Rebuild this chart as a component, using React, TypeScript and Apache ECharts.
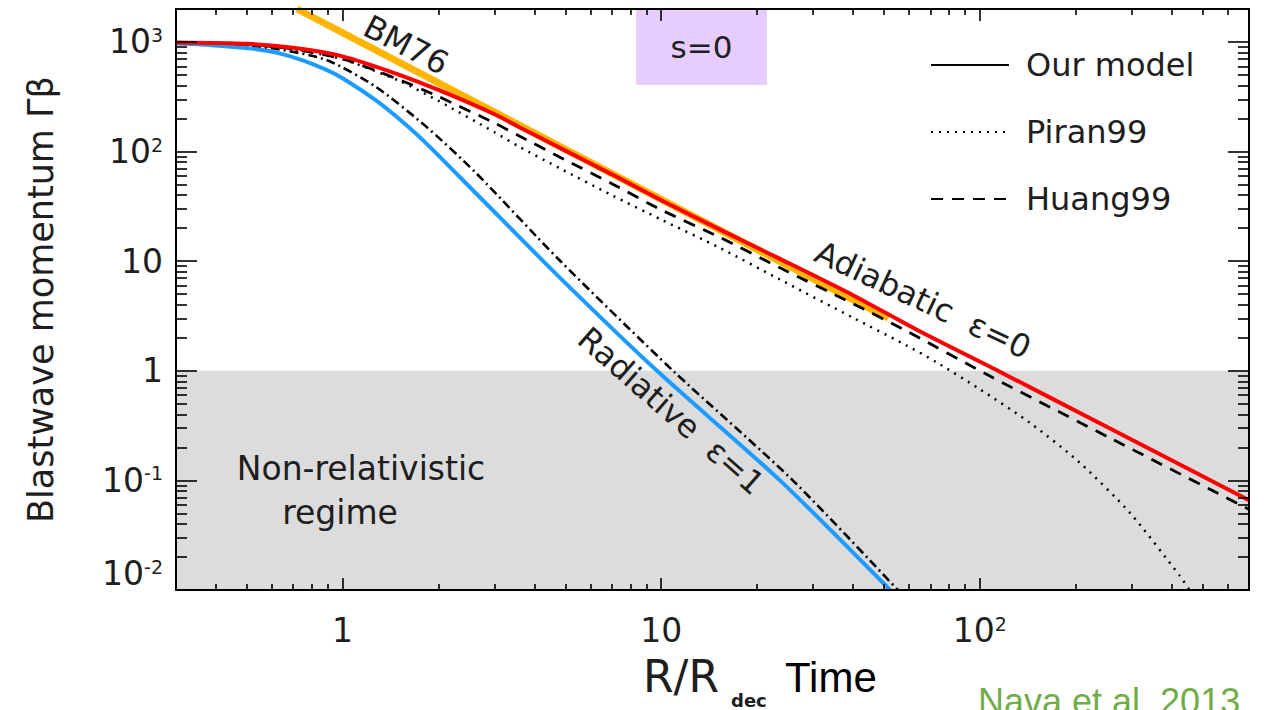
import React, { useEffect, useRef } from 'react';
import * as echarts from 'echarts';

const FONT = "'DejaVu Sans', sans-serif";
const NARROW = "'Liberation Sans Narrow', 'Liberation Sans', sans-serif";
const INK = '#1e1e1e';

// Axis ranges (R/R_dec and Γβ)
const X_MIN = 0.3;
const X_MAX = 700;
const Y_MIN = 0.01;
const Y_MAX = 2000;

// Tick values
const xMajorTicks = [1, 10, 100];
const xMinorTicks = [0.4, 0.5, 0.6, 0.7, 0.8, 0.9, 2, 3, 4, 5, 6, 7, 8, 9, 20, 30, 40, 50, 60, 70, 80, 90, 200, 300, 400, 500, 600];
const yMajorTicks = [0.01, 0.1, 1, 10, 100, 1000];
const yLabelTicks = [0.1, 1, 10, 100, 1000];
const yBottomLabel = [0.01];
const yMinorTicks = [
  0.02, 0.03, 0.04, 0.05, 0.06, 0.07, 0.08, 0.09,
  0.2, 0.3, 0.4, 0.5, 0.6, 0.7, 0.8, 0.9,
  2, 3, 4, 5, 6, 7, 8, 9,
  20, 30, 40, 50, 60, 70, 80, 90,
  200, 300, 400, 500, 600, 700, 800, 900,
];

// Our model, adiabatic (eps = 0)
const adiabaticOurX = [0.3, 0.5, 0.7, 1, 1.5, 2, 3, 3.6, 5, 7, 10, 15.3, 23.6, 40, 63.4, 114, 239, 700];
const adiabaticOurY = [990, 962, 885, 740, 505, 365, 219, 166, 102, 62, 36, 19.4, 10.5, 4.9, 2.37, 1.0, 0.33, 0.066];

// Huang99, adiabatic
const adiabaticHuangX = [0.3, 0.5, 0.7, 1, 1.5, 2, 3, 3.6, 5, 7, 10, 15.3, 23.6, 40, 59, 108, 262, 700];
const adiabaticHuangY = [985, 950, 862, 700, 455, 318, 182, 138, 84, 51, 29.4, 16.5, 8.7, 4.1, 2.3, 0.89, 0.236, 0.0545];

// Piran99, adiabatic
const adiabaticPiranX = [0.3, 0.5, 0.7, 1, 1.5, 2, 3, 3.6, 4.78, 7, 10, 15.3, 23.6, 40, 59, 73, 100, 144, 206, 296, 425, 455];
const adiabaticPiranY = [980, 945, 858, 695, 445, 290, 150, 110, 71, 40, 24, 13.2, 6.8, 3.05, 1.7, 1.2, 0.68, 0.334, 0.145, 0.0506, 0.0134, 0.01];

// Our model, radiative (eps = 1)
const radiativeOurX = [0.3, 0.36, 0.43, 0.52, 0.62, 0.75, 0.89, 1, 1.27, 1.5, 1.83, 2.62, 4.78, 9.7, 23.6, 52.3];
const radiativeOurY = [968, 950, 915, 870, 800, 680, 556, 467, 295, 200, 119, 41.7, 7.2, 1.0, 0.1, 0.01];

// Piran99 / Huang99, radiative (coincident, dash-dot)
const radiativeOthersX = [0.3, 0.45, 0.62, 0.89, 1.27, 1.83, 2.62, 4.78, 10.9, 25.9, 55.3];
const radiativeOthersY = [978, 925, 863, 685, 391, 169, 64, 10.3, 1.0, 0.1, 0.01];

// BM76 asymptote
const bm76X = [0.72, 51.6];
const bm76Y = [2000, 3.03];

// Regions
const nonRelativisticRange = [0.01, 1];
const sBoxX = [8.33, 21.5];
const sBoxY = [405, 2000];

const pts = (xs: number[], ys: number[]) => xs.map((x, i) => [x, ys[i]]);

const fmtPow = (v: number) => {
  const e = Math.round(Math.log10(v));
  if (e === 0) return '1';
  if (e === 1) return '10';
  return '10{sup|' + (e < 0 ? '-' + -e : String(e)) + '}';
};

const labelRich = {
  sup: { fontSize: 19, verticalAlign: 'top', fontFamily: FONT, color: INK },
};

const tickLine = { color: '#000', width: 1.6 };
const frameLine = { show: true, onZero: false, lineStyle: { color: '#000', width: 2 } };

function xAxisDef(position: string, major: boolean, withLabels: boolean) {
  return {
    type: 'log',
    logBase: 10,
    position,
    min: X_MIN,
    max: X_MAX,
    z: 10,
    axisLine: major ? frameLine : { show: false },
    axisTick: {
      show: true,
      inside: true,
      length: major ? 12 : 6,
      customValues: major ? xMajorTicks : xMinorTicks,
      lineStyle: tickLine,
    },
    minorTick: { show: false },
    splitLine: { show: false },
    axisLabel: withLabels
      ? {
          show: true,
          customValues: xMajorTicks,
          formatter: fmtPow,
          fontSize: 33,
          fontFamily: FONT,
          color: INK,
          margin: 24,
          rich: labelRich,
        }
      : { show: false },
  };
}

function yAxisDef(position: string, major: boolean, labels: number[] | null, extra: any = {}) {
  return {
    type: 'log',
    logBase: 10,
    position,
    min: Y_MIN,
    max: Y_MAX,
    z: 10,
    axisLine: major ? frameLine : { show: false },
    axisTick: {
      show: true,
      inside: true,
      length: major ? 21 : 11,
      customValues: major ? yMajorTicks : yMinorTicks,
      lineStyle: tickLine,
    },
    minorTick: { show: false },
    splitLine: { show: false },
    axisLabel: labels
      ? {
          show: true,
          customValues: labels,
          formatter: fmtPow,
          fontSize: 33,
          fontFamily: FONT,
          color: INK,
          margin: 13,
          rich: labelRich,
          ...(extra.label || {}),
        }
      : { show: false },
    ...(extra.axis || {}),
  };
}

const lineBase = { type: 'line', symbol: 'none', showSymbol: false, animation: false, clip: true };
const curveBase = { ...lineBase, smooth: 0.25 };

const option: any = {
  animation: false,
  backgroundColor: '#ffffff',
  textStyle: { fontFamily: FONT },
  grid: { left: 176, top: 9, width: 1073, height: 581, containLabel: false },
  legend: {
    data: ['Our model', 'Piran99', 'Huang99'],
    orient: 'vertical',
    left: 930,
    top: 49,
    padding: 0,
    itemWidth: 78,
    itemHeight: 30,
    itemGap: 35,
    selectedMode: false,
    itemStyle: { opacity: 0 },
    textStyle: { fontSize: 32, color: INK, fontFamily: FONT, padding: [0, 0, 0, 12] },
  },
  xAxis: [
    xAxisDef('bottom', true, true),
    xAxisDef('bottom', false, false),
    xAxisDef('top', true, false),
    xAxisDef('top', false, false),
  ],
  yAxis: [
    yAxisDef('left', true, yLabelTicks, {
      axis: {
        name: 'Blastwave momentum Γβ',
        nameLocation: 'middle',
        nameRotate: 90,
        nameGap: 118,
        nameTextStyle: { fontSize: 35, fontFamily: FONT, color: INK },
      },
    }),
    yAxisDef('left', false, yBottomLabel, { label: { verticalAlign: 'bottom' } }),
    yAxisDef('right', true, null),
    yAxisDef('right', false, null),
  ],
  series: [
    {
      ...lineBase,
      name: 'BM76',
      data: pts(bm76X, bm76Y),
      lineStyle: { color: '#FFB400', width: 7 },
      markArea: {
        silent: true,
        label: { show: false },
        data: [
          [
            { xAxis: X_MIN, yAxis: nonRelativisticRange[0], itemStyle: { color: '#dcdcdc' } },
            { xAxis: X_MAX, yAxis: nonRelativisticRange[1] },
          ],
          [
            {
              name: 's=0',
              xAxis: sBoxX[0],
              yAxis: sBoxY[0],
              itemStyle: { color: '#e6ccff' },
              label: { show: true, position: 'inside', fontSize: 31, color: INK, fontFamily: FONT },
            },
            { xAxis: sBoxX[1], yAxis: sBoxY[1] },
          ],
        ],
      },
    },
    {
      ...curveBase,
      name: 'Piran99 (adiabatic)',
      data: pts(adiabaticPiranX, adiabaticPiranY),
      lineStyle: { color: '#000', width: 2.5, type: [2, 6] },
    },
    {
      ...curveBase,
      name: 'Huang99 (adiabatic)',
      data: pts(adiabaticHuangX, adiabaticHuangY),
      lineStyle: { color: '#000', width: 2.8, type: [12, 9] },
    },
    {
      ...curveBase,
      name: 'Piran99 / Huang99 (radiative)',
      data: pts(radiativeOthersX, radiativeOthersY),
      lineStyle: { color: '#000', width: 2.6, type: [9, 4, 2, 4] },
    },
    {
      ...curveBase,
      name: 'Our model (radiative)',
      data: pts(radiativeOurX, radiativeOurY),
      lineStyle: { color: '#1E9BFF', width: 4 },
    },
    {
      ...curveBase,
      name: 'Our model (adiabatic)',
      data: pts(adiabaticOurX, adiabaticOurY),
      lineStyle: { color: '#FF0000', width: 4 },
    },
    { ...lineBase, name: 'Our model', data: [], itemStyle: { color: '#000', opacity: 0 }, lineStyle: { color: '#000', width: 2 } },
    { ...lineBase, name: 'Piran99', data: [], itemStyle: { color: '#000', opacity: 0 }, lineStyle: { color: '#000', width: 2, type: [2, 6] } },
    { ...lineBase, name: 'Huang99', data: [], itemStyle: { color: '#000', opacity: 0 }, lineStyle: { color: '#000', width: 2, type: [12, 9] } },
  ],
  graphic: [
    {
      type: 'text', x: 406, y: 45, rotation: -0.48, z: 20,
      style: { text: 'BM76', fontSize: 32, fontFamily: FONT, fill: INK, align: 'center', verticalAlign: 'middle' },
    },
    {
      type: 'text', x: 923, y: 300, rotation: -0.44, z: 20,
      style: { text: 'Adiabatic  ε=0', fontSize: 32, fontFamily: FONT, fill: INK, align: 'center', verticalAlign: 'middle' },
    },
    {
      type: 'text', x: 671, y: 411, rotation: -0.72, z: 20,
      style: { text: 'Radiative  ε=1', fontSize: 32, fontFamily: FONT, fill: INK, align: 'center', verticalAlign: 'middle' },
    },
    {
      type: 'text', x: 361, y: 468, z: 20,
      style: { text: 'Non-relativistic', fontSize: 33, fontFamily: FONT, fill: INK, align: 'center', verticalAlign: 'middle' },
    },
    {
      type: 'text', x: 340, y: 512, z: 20,
      style: { text: 'regime', fontSize: 33, fontFamily: FONT, fill: INK, align: 'center', verticalAlign: 'middle' },
    },
    {
      type: 'text', x: 643, y: 676, z: 20,
      style: { text: 'R/R', fontSize: 44, fontFamily: FONT, fill: INK, align: 'left', verticalAlign: 'middle' },
    },
    {
      type: 'text', x: 731, y: 700, z: 20,
      style: { text: 'dec', fontSize: 18, fontWeight: 'bold', fontFamily: FONT, fill: INK, align: 'left', verticalAlign: 'middle' },
    },
    {
      type: 'text', x: 785, y: 677, z: 20,
      style: { text: 'Time', fontSize: 42, fontFamily: NARROW, fill: '#000', align: 'left', verticalAlign: 'middle' },
    },
    {
      type: 'text', x: 978, y: 683, z: 20,
      style: { text: 'Nava et al. 2013', fontSize: 36, fontFamily: NARROW, fill: '#70AD47', align: 'left', verticalAlign: 'top' },
    },
  ],
};

export default function App() {
  const ref = useRef<HTMLDivElement>(null);
  useEffect(() => {
    if (!ref.current) return;
    const chart = echarts.init(ref.current, null, { renderer: 'svg' });
    chart.setOption(option);
    return () => chart.dispose();
  }, []);
  return (
    <div
      ref={ref}
      style={{ position: 'fixed', left: 0, top: 0, width: 1264, height: 710, background: '#fff' }}
    />
  );
}
